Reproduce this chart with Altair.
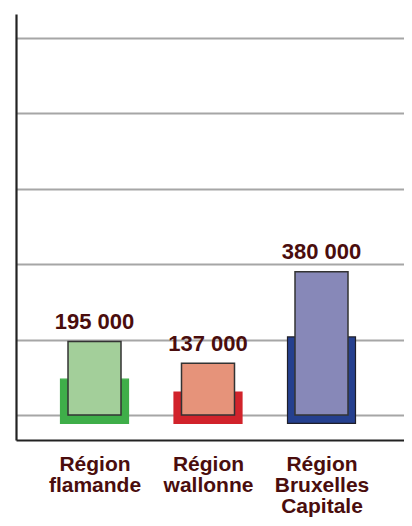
import altair as alt
import pandas as pd

regions = ["Région flamande", "Région wallonne", "Région Bruxelles Capitale"]
values = [195000, 137000, 380000]
value_labels = ["195 000", "137 000", "380 000"]
back_values = [95000, 61000, 207000]
back_base = -22000
front_colors = ["#a3cf9a", "#e6937a", "#8788b8"]
back_colors = ["#3fae49", "#d1232b", "#25408f"]
back_strokes = ["#3fae49", "#d1232b", "#1f1f2a"]
grid_values = [0, 200000, 400000, 600000, 800000, 1000000]

df = pd.DataFrame({
    "region": regions,
    "value": values,
    "label": value_labels,
    "back": back_values,
    "base": [back_base] * 3,
    "zero": [0] * 3,
    "fcol": front_colors,
    "bcol": back_colors,
    "bstroke": back_strokes,
})

x = alt.X(
    "region:N",
    sort=regions,
    scale=alt.Scale(type="point", padding=0.7093, align=0.4876),
    axis=alt.Axis(
        title=None,
        ticks=False,
        domain=True,
        domainColor="#222222",
        domainWidth=2.2,
        labelAngle=0,
        labelExpr="split(datum.label, ' ')",
        labelFont="Liberation Sans",
        labelFontSize=21,
        labelFontWeight="bold",
        labelColor="#4a0d0d",
        labelLineHeight=21,
        labelPadding=13,
        labelBaseline="top",
        grid=False,
    ),
)

yscale = alt.Scale(domain=[-66300, 1063700], nice=False, zero=False)
yaxis = alt.Axis(
    title=None,
    labels=False,
    ticks=False,
    values=grid_values,
    grid=True,
    gridColor="#a6a6a6",
    gridWidth=1.8,
    domain=True,
    domainColor="#222222",
    domainWidth=2.2,
)

base = alt.Chart(df)

back = base.mark_bar(size=68, strokeWidth=1.2).encode(
    x=x,
    y=alt.Y("base:Q", scale=yscale, axis=yaxis),
    y2="back:Q",
    fill=alt.Fill("bcol:N", scale=None),
    stroke=alt.Stroke("bstroke:N", scale=None),
)

front = base.mark_bar(size=53, stroke="#333333", strokeWidth=1.5).encode(
    x=x,
    y=alt.Y("zero:Q", scale=yscale, axis=yaxis),
    y2="value:Q",
    fill=alt.Fill("fcol:N", scale=None),
)

text = base.mark_text(
    font="Liberation Sans",
    fontSize=22,
    fontWeight="bold",
    color="#4a0d0d",
    baseline="alphabetic",
    dy=-12.5,
).encode(
    x=x,
    y=alt.Y("value:Q", scale=yscale, axis=yaxis),
    text="label:N",
)

chart = alt.layer(back, front, text).properties(
    width=388,
    height=426,
    autosize=alt.AutoSizeParams(type="none"),
    padding={"left": 8, "top": 6, "right": 0, "bottom": 78},
).configure_view(stroke=None)

chart.save("out.html", embed_options={"renderer": "svg", "actions": False})
